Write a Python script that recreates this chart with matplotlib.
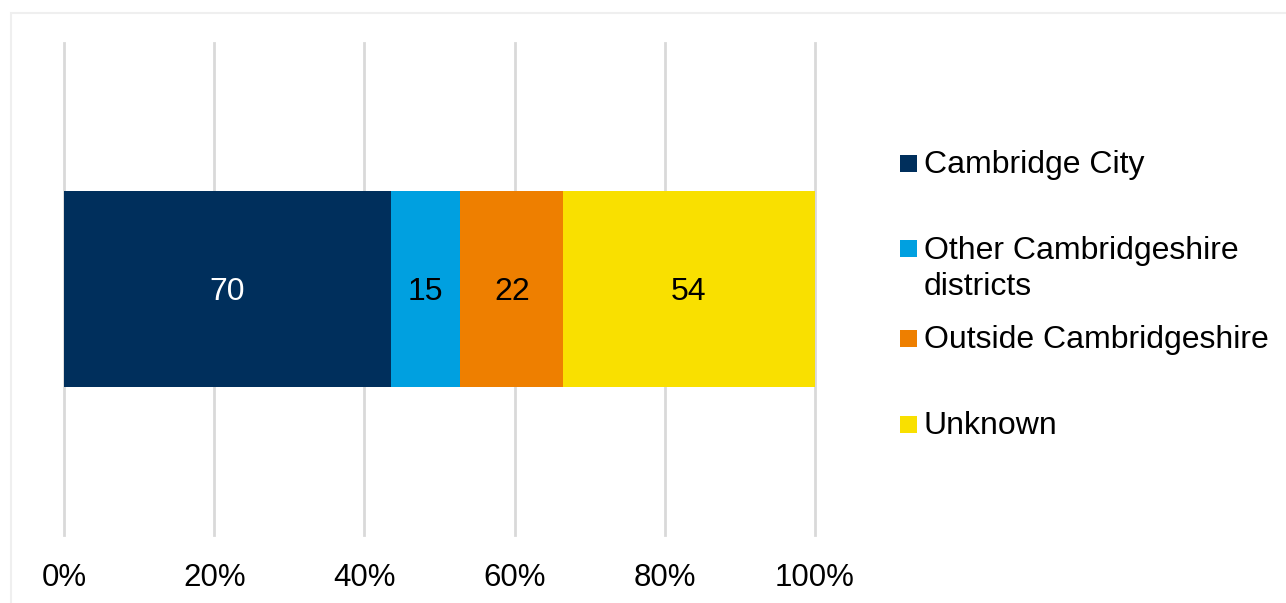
import matplotlib
matplotlib.use("Agg")
import matplotlib.pyplot as plt
from matplotlib.patches import Rectangle

categories = ["Cambridge City", "Other Cambridgeshire\ndistricts", "Outside Cambridgeshire", "Unknown"]
values = [70, 15, 22, 54]
colors = ["#002F5C", "#00A0E0", "#EE7F00", "#F9E000"]
label_colors = ["white", "black", "black", "black"]
xticks = [0, 20, 40, 60, 80, 100]
xticklabels = ["0%", "20%", "40%", "60%", "80%", "100%"]

plt.rcParams['font.family'] = ['Liberation Sans', 'DejaVu Sans']

W, H = 1286, 603
fig = plt.figure(figsize=(W / 100, H / 100), dpi=100)
fig.patch.set_facecolor("white")

# light frame
fig.patches.append(Rectangle((10.5 / W, -0.01), 1.1, 1 - 13.5 / H + 0.01, transform=fig.transFigure,
                             fill=False, edgecolor="#EFEFEF", linewidth=1.5))

ax = fig.add_axes([64 / W, 1 - 535 / H, (815 - 64) / W, (535 - 43) / H])
total = sum(values)
left = 0
for v, c, lc in zip(values, colors, label_colors):
    pct = v / total * 100
    ax.barh(0, pct, left=left, height=0.398, color=c, zorder=3)
    ax.text(left + pct / 2, 0, str(v), ha="center", va="center_baseline", fontsize=23, color=lc, zorder=4)
    left += pct

ax.set_xlim(0, 100)
ax.set_ylim(-0.5, 0.5)
ax.set_xticks(xticks)
ax.set_xticklabels(xticklabels, fontsize=22.5, color="#000000")
ax.tick_params(axis="x", length=0, pad=20)
ax.set_yticks([])
ax.grid(axis="x", color="#D9D9D9", linewidth=2, zorder=0)
for gl in ax.get_xgridlines():
    gl.set_clip_on(False)
for s in ax.spines.values():
    s.set_visible(False)

# legend
legend_y = [163, 267, 338, 424]
for cat, c, yc in zip(categories, colors, legend_y):
    lines = cat.count("\n") + 1
    top_line = yc if lines == 1 else yc - 19
    fig.patches.append(Rectangle((900 / W, 1 - (top_line + 8.5) / H),
                                 17 / W, 17 / H, transform=fig.transFigure, facecolor=c, edgecolor="none"))
    fig.text(924 / W, 1 - (yc + 2) / H, cat, ha="left", va="center", fontsize=23, color="#000000",
             linespacing=1.25)

fig.savefig("out.png", dpi=100)
